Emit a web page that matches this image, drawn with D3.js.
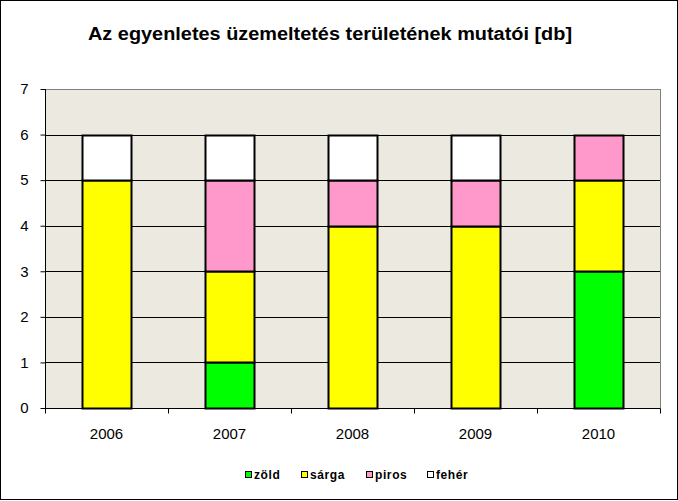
<!DOCTYPE html>
<html><head><meta charset="utf-8">
<script src="https://cdn.jsdelivr.net/npm/d3@7"></script>
<style>body{margin:0;background:#fff}svg{display:block}text{font-family:"Liberation Sans",Arial,sans-serif}</style>
</head><body><svg id="c" width="678" height="501"></svg>
<script>
const years = ["2006","2007","2008","2009","2010"];
const seriesNames = ["zöld","sárga","piros","fehér"];
const zold  = [0,1,0,0,3];
const sarga = [5,2,4,4,2];
const piros = [0,2,1,1,1];
const feher = [1,1,1,1,0];
const yTicks = [0,1,2,3,4,5,6,7];
const colors = ["#00FF00","#FFFF00","#FF99CC","#FFFFFF"];

const svg = d3.select("#c");
svg.append("rect").attr("x",0.5).attr("y",0.5).attr("width",677).attr("height",499)
  .attr("fill","#fff").attr("stroke","#000");

const L=45,R=660,T=89,B=408;
const x = d3.scaleBand().domain(years).range([L,R]).paddingInner(0.6).paddingOuter(0.3);
const xb = d3.scaleBand().domain(years).range([L,R]);
const y = d3.scaleLinear().domain([0,7]).range([B,T]);

svg.append("rect").attr("x",L+0.5).attr("y",T+0.5).attr("width",R-L).attr("height",B-T)
  .attr("fill","#ECE9E1").attr("stroke","#808080");

// gridlines
svg.append("g").selectAll("line").data(yTicks.filter(d=>d>0&&d<7)).join("line")
  .attr("x1",L).attr("x2",R).attr("y1",d=>Math.round(y(d))+0.5).attr("y2",d=>Math.round(y(d))+0.5)
  .attr("stroke","#000");

const table = years.map((yr,i)=>({year:yr,"zöld":zold[i],"sárga":sarga[i],"piros":piros[i],"fehér":feher[i]}));
const stack = d3.stack().keys(seriesNames)(table);
stack.forEach((s,k)=>{
  svg.append("g").selectAll("rect").data(s.filter(d=>d[1]-d[0]>0)).join("rect")
    .attr("x",d=>Math.round(x(d.data.year))+0.5)
    .attr("width",Math.round(x.bandwidth()))
    .attr("y",d=>Math.round(y(d[1]))+0.5)
    .attr("height",d=>Math.round(y(d[0]))-Math.round(y(d[1])))
    .attr("fill",colors[k]).attr("stroke","#000").attr("stroke-width",2);
});

// axes
const ya = d3.axisLeft(y).tickValues(yTicks).tickSize(5).tickPadding(12).tickFormat(d3.format("d"));
const gy = svg.append("g").attr("transform",`translate(${L+0.5},0)`).call(ya);
gy.select(".domain").attr("stroke","#000").attr("d",`M0,${T}V${B}`);
gy.selectAll(".tick line").attr("stroke","#000");
gy.selectAll("text").attr("font-size",15).attr("fill","#000");

const gx = svg.append("g").attr("transform",`translate(0,${B+0.5})`);
gx.append("line").attr("x1",L).attr("x2",R).attr("stroke","#000");
gx.selectAll("line.t").data(years.map(d=>xb(d)).concat([R])).join("line").attr("class","t")
  .attr("x1",d=>Math.round(d)+0.5).attr("x2",d=>Math.round(d)+0.5).attr("y1",0).attr("y2",5).attr("stroke","#000");
gx.selectAll("text").data(years).join("text")
  .attr("x",d=>xb(d)+xb.bandwidth()/2).attr("y",30).attr("text-anchor","middle")
  .attr("font-size",15).text(d=>d);

// title
svg.append("text").attr("x",330).attr("y",40).attr("text-anchor","middle")
  .attr("font-size",18).attr("font-weight","bold").attr("textLength",484).attr("lengthAdjust","spacingAndGlyphs")
  .text("Az egyenletes üzemeltetés területének mutatói [db]");

// legend
const legX = [245,301,366,427];
const lg = svg.append("g");
seriesNames.forEach((n,i)=>{
  lg.append("rect").attr("x",legX[i]+0.5).attr("y",471.5).attr("width",6).attr("height",6)
    .attr("fill",colors[i]).attr("stroke","#000");
  lg.append("text").attr("x",legX[i]+9).attr("y",479).attr("font-size",12).attr("font-weight","bold")
    .attr("letter-spacing",0.6).text(n);
});
</script></body></html>
